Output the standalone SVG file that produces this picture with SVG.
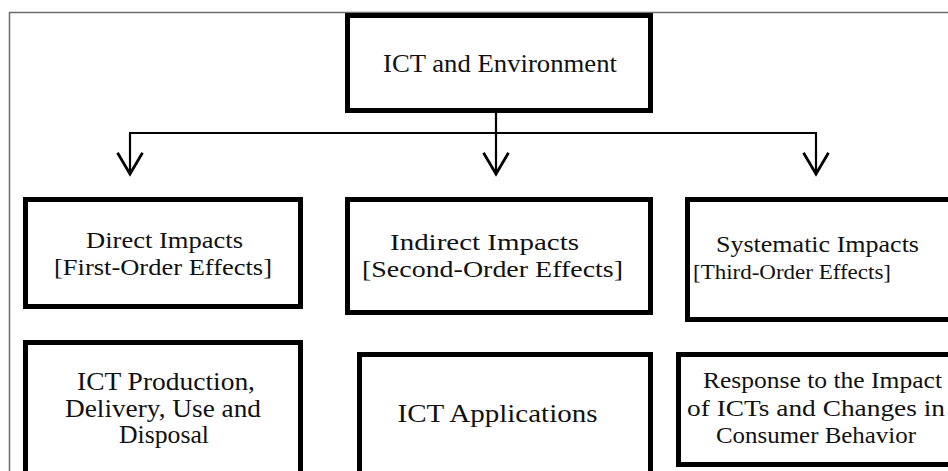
<svg xmlns="http://www.w3.org/2000/svg" width="948" height="471" viewBox="0 0 948 471">
<style>
.frame{fill:none;stroke:#6e6e6e;stroke-width:1.5}
.box{fill:#fff;stroke:#000;stroke-width:5}
.t{font-family:"Liberation Serif","Times New Roman",serif;fill:#111;text-anchor:middle}
.conn{fill:none;stroke:#000;stroke-width:2.2}
</style>
<defs>
<marker id="arr" markerUnits="userSpaceOnUse" markerWidth="30" markerHeight="30" viewBox="-20 -12 24 24" refX="0" refY="0" orient="auto" overflow="visible">
<path d="M-17,-10 L0,0 L-17,10" fill="none" stroke="#000" stroke-width="2.2"/>
</marker>
</defs>
<rect width="948" height="471" fill="#fff"/>
<rect class="frame" x="9.5" y="12.5" width="960" height="480"/>
<g id="connectors">
<path class="conn" d="M496,113 V133"/>
<path class="conn" d="M130,133 V174" marker-end="url(#arr)"/>
<path class="conn" d="M496,133 V174" marker-end="url(#arr)"/>
<path class="conn" d="M816,133 V174" marker-end="url(#arr)"/>
<path class="conn" d="M129,133 H817"/>
</g>
<g id="root">
<rect class="box" x="347.5" y="15.5" width="303" height="95"/>
<text class="t" x="500" y="72" font-size="25" textLength="234" lengthAdjust="spacingAndGlyphs">ICT and Environment</text>
</g>
<g id="direct">
<rect class="box" x="25.5" y="199.5" width="275" height="107"/>
<text class="t" x="164.5" y="248" font-size="24" textLength="157" lengthAdjust="spacingAndGlyphs">Direct Impacts</text>
<text class="t" x="163" y="275" font-size="24" textLength="218" lengthAdjust="spacingAndGlyphs">[First-Order Effects]</text>
</g>
<g id="indirect">
<rect class="box" x="347.5" y="199.5" width="303" height="113"/>
<text class="t" x="484.5" y="250" font-size="24" textLength="189" lengthAdjust="spacingAndGlyphs">Indirect Impacts</text>
<text class="t" x="492.5" y="277" font-size="24" textLength="261" lengthAdjust="spacingAndGlyphs">[Second-Order Effects]</text>
</g>
<g id="systematic">
<rect class="box" x="687.5" y="199.5" width="280" height="120"/>
<text class="t" x="817.5" y="252" font-size="24" textLength="203" lengthAdjust="spacingAndGlyphs">Systematic Impacts</text>
<text class="t" x="792" y="279" font-size="22" textLength="198" lengthAdjust="spacingAndGlyphs">[Third-Order Effects]</text>
</g>
<g id="production">
<rect class="box" x="25.5" y="342.5" width="275" height="150"/>
<text class="t" x="166" y="390" font-size="25" textLength="178" lengthAdjust="spacingAndGlyphs">ICT Production,</text>
<text class="t" x="163" y="417" font-size="25" textLength="196" lengthAdjust="spacingAndGlyphs">Delivery, Use and</text>
<text class="t" x="164" y="443" font-size="25" textLength="90" lengthAdjust="spacingAndGlyphs">Disposal</text>
</g>
<g id="applications">
<rect class="box" x="359.5" y="354.5" width="291" height="140"/>
<text class="t" x="497.5" y="422" font-size="25" textLength="200" lengthAdjust="spacingAndGlyphs">ICT Applications</text>
</g>
<g id="response">
<rect class="box" x="678.5" y="354.5" width="290" height="110"/>
<text class="t" x="822.5" y="388" font-size="23" textLength="239" lengthAdjust="spacingAndGlyphs">Response to the Impact</text>
<text class="t" x="816" y="416" font-size="23" textLength="258" lengthAdjust="spacingAndGlyphs">of ICTs and Changes in</text>
<text class="t" x="816" y="443" font-size="23" textLength="200" lengthAdjust="spacingAndGlyphs">Consumer Behavior</text>
</g>
</svg>
